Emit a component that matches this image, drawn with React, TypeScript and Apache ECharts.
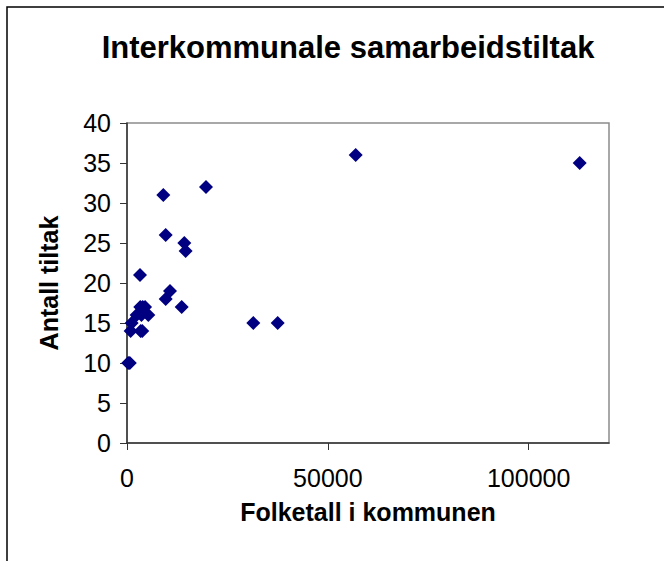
import React, { useEffect, useRef } from "react";
import * as echarts from "echarts";

const titleText = "Interkommunale samarbeidstiltak";
const xAxisTitle = "Folketall i kommunen";
const yAxisTitle = "Antall tiltak";

const population = [9040, 19670, 9630, 14270, 14600, 3240, 10700, 9630, 13620, 31450, 37520, 300, 700, 1160, 900, 3400, 3800, 2400, 3300, 3900, 4500, 3600, 5300, 56930, 112700];
const measures = [31, 32, 26, 25, 24, 21, 19, 18, 17, 15, 15, 10, 10, 15, 14, 14, 14, 16, 17, 17, 17, 16, 16, 36, 35];

const FONT = "Liberation Sans, Arial, sans-serif";

export default function App() {
  const ref = useRef<HTMLDivElement>(null);
  useEffect(() => {
    if (!ref.current) return;
    const chart = echarts.init(ref.current, null, { renderer: "svg" });
    const data = population.map((x, i) => [x, measures[i]]);
    chart.setOption({
      animation: false,
      backgroundColor: "#ffffff",
      title: {
        text: titleText,
        left: 343,
        textAlign: "center",
        top: 27,
        textStyle: { fontFamily: FONT, fontWeight: "bold", fontSize: 31, color: "#000" },
      },
      graphic: [
        {
          type: "rect",
          shape: { x: 7, y: 7, width: 800, height: 800 },
          style: { fill: "none", stroke: "#000", lineWidth: 1.5 },
          silent: true,
        },
      ],
      grid: {
        left: 127,
        top: 123,
        width: 482,
        height: 320,
        show: true,
        borderColor: "#8c8c8c",
        borderWidth: 1.5,
        backgroundColor: "transparent",
      },
      xAxis: {
        type: "value",
        min: 0,
        max: 120000,
        interval: 50000,
        name: xAxisTitle,
        nameLocation: "middle",
        nameGap: 56,
        nameTextStyle: { fontFamily: FONT, fontWeight: "bold", fontSize: 25, color: "#000" },
        axisLine: { show: true, lineStyle: { color: "#333", width: 1.5 } },
        axisTick: { show: true, length: 7, lineStyle: { color: "#333" } },
        axisLabel: {
          showMaxLabel: false,
          margin: 22,
          fontFamily: FONT,
          fontSize: 25,
          color: "#000",
          formatter: (v: number) => String(v),
        },
        splitLine: { show: false },
      },
      yAxis: {
        type: "value",
        min: 0,
        max: 40,
        interval: 5,
        name: yAxisTitle,
        nameLocation: "middle",
        nameGap: 66,
        nameTextStyle: { fontFamily: FONT, fontWeight: "bold", fontSize: 25, color: "#000" },
        axisLine: { show: true, lineStyle: { color: "#333", width: 1.5 } },
        axisTick: { show: true, length: 7, lineStyle: { color: "#333" } },
        axisLabel: { margin: 16, fontFamily: FONT, fontSize: 25, color: "#000" },
        splitLine: { show: false },
      },
      series: [
        {
          type: "scatter",
          symbol: "diamond",
          symbolSize: 14,
          itemStyle: { color: "#000080", opacity: 1 },
          data,
        },
      ],
    });
    return () => chart.dispose();
  }, []);
  return (
    <div
      ref={ref}
      style={{ position: "fixed", left: 0, top: 0, width: 664, height: 561, background: "#fff" }}
    />
  );
}
